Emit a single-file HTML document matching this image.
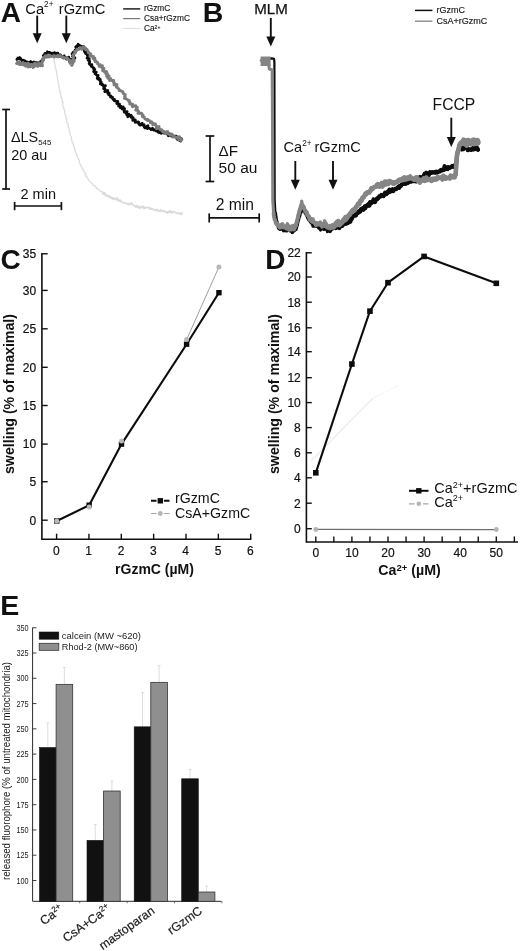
<!DOCTYPE html>
<html lang="en"><head><meta charset="utf-8"><title>Figure: rGzmC mitochondrial swelling</title>
<style>html,body{margin:0;padding:0;background:#fff}body{width:520px;height:951px;overflow:hidden}svg{display:block;font-family:'Liberation Sans', Arial, Helvetica, sans-serif}</style>
</head><body>
<svg width="520" height="951" viewBox="0 0 520 951">
<rect x="0" y="0" width="520" height="951" fill="#ffffff"/>
<g id="panelA">
<text x="0.8" y="21.5" font-size="28" font-weight="bold" text-anchor="start" fill="#111" >A</text>
<text x="25.3" y="13.5" font-size="14.7" font-weight="normal" text-anchor="start" fill="#111" >Ca<tspan dy="-6.3" font-size="8.2">2+</tspan></text>
<text x="58.8" y="13.5" font-size="14.7" font-weight="normal" text-anchor="start" fill="#111" >rGzmC</text>
<line x1="37.2" y1="15.6" x2="37.2" y2="34.2" stroke="#111" stroke-width="1.9"/>
<polygon points="32.7,33.2 41.7,33.2 37.2,43.2" fill="#111"/>
<line x1="66.3" y1="15.6" x2="66.3" y2="34.2" stroke="#111" stroke-width="1.9"/>
<polygon points="61.8,33.2 70.8,33.2 66.3,43.2" fill="#111"/>
<line x1="123.2" y1="8.9" x2="140.2" y2="8.9" stroke="#111" stroke-width="1.4" />
<line x1="123.2" y1="18.6" x2="140.2" y2="18.6" stroke="#7a7a7a" stroke-width="1.2" />
<line x1="123.2" y1="28.4" x2="140.2" y2="28.4" stroke="#dcdcdc" stroke-width="1.0" />
<text x="144" y="11.2" font-size="8.3" font-weight="normal" text-anchor="start" fill="#1a1a1a" stroke="#1a1a1a" stroke-width="0.15">rGzmC</text>
<text x="144" y="21.2" font-size="8.3" font-weight="normal" text-anchor="start" fill="#1a1a1a" stroke="#1a1a1a" stroke-width="0.15">Csa+rGzmC</text>
<text x="144" y="31.2" font-size="8.3" font-weight="normal" text-anchor="start" fill="#1a1a1a" stroke="#1a1a1a" stroke-width="0.15">Ca<tspan dy="-2.5" font-size="5">2+</tspan></text>
<polyline points="53.8,58.6 54.0,59.0 54.1,59.4 53.8,59.9 54.6,60.2 54.2,61.1 54.1,61.9 54.6,62.7 54.6,63.5 55.1,64.3 54.9,65.2 55.2,65.9 55.1,66.8 55.3,67.6 55.5,68.4 56.0,69.1 56.2,69.9 56.3,70.8 56.3,71.6 56.8,72.3 56.4,73.3 56.6,74.0 57.2,74.8 57.3,75.6 57.2,76.4 57.2,77.2 57.6,78.0 57.5,78.8 57.5,79.7 58.1,80.4 57.9,81.3 58.2,82.0 58.1,82.9 58.4,83.7 58.8,84.4 59.1,85.2 58.6,86.1 58.9,86.9 59.1,87.7 59.3,88.5 59.7,89.2 59.3,90.1 59.8,90.9 60.5,91.5 59.8,92.5 60.2,93.3 60.9,93.9 60.8,94.8 60.8,95.6 60.8,96.5 61.2,97.2 61.7,97.9 62.2,98.6 61.9,99.5 62.4,100.2 62.1,101.1 63.2,101.7 62.0,102.8 63.0,103.4 62.9,104.3 62.8,105.1 62.8,106.0 62.9,106.8 63.8,107.4 63.4,108.3 63.9,109.0 64.5,109.7 64.7,110.5 64.7,111.3 64.7,112.2 64.9,113.0 64.8,113.8 65.4,114.5 65.1,115.4 65.7,116.1 66.2,116.8 66.0,117.7 66.0,118.5 67.1,119.1 66.4,120.1 66.8,120.9 66.3,121.8 67.1,122.4 68.1,123.0 68.1,123.8 68.4,124.6 67.7,125.6 68.5,126.3 68.2,127.2 68.9,127.8 69.1,128.6 69.3,129.4 69.1,130.3 69.3,131.1 69.8,131.8 70.2,132.5 69.9,133.4 70.0,134.2 70.3,135.0 70.6,135.7 71.2,136.4 71.6,137.2 71.3,138.1 71.2,138.9 71.6,139.7 72.1,140.4 72.0,141.2 72.1,142.1 72.4,142.8 73.5,143.3 73.3,144.2 73.5,145.0 73.3,145.9 74.3,146.5 74.8,147.1 74.2,148.2 74.7,148.9 74.7,149.7 75.5,150.3 75.1,151.3 75.8,151.9 76.0,152.7 76.3,153.5 76.9,154.1 76.4,155.2 77.1,155.8 77.3,156.5 77.8,157.3 77.8,158.1 78.4,158.8 78.8,159.5 79.4,160.1 79.1,161.1 79.3,161.9 79.5,162.7 80.0,163.3 79.9,164.2 80.8,164.7 81.2,165.4 81.0,166.4 81.7,167.0 82.1,167.7 82.0,168.6 83.1,168.9 82.9,170.0 83.8,170.4 83.9,171.3 84.3,172.0 85.1,172.5 85.4,173.3 84.8,174.5 85.7,174.9 86.2,175.6 86.0,176.6 87.1,176.9 87.1,177.8 87.9,178.3 88.1,179.1 88.6,179.7 89.1,180.4 89.2,181.3 89.9,181.8 90.6,182.2 91.4,182.6 91.7,183.4 92.3,184.0 92.6,184.9 93.2,185.5 94.3,185.4 94.9,186.0 95.2,186.9 96.3,187.0 96.1,188.3 97.1,188.5 97.8,188.9 98.5,189.4 99.1,190.0 99.7,190.5 100.2,191.3 101.1,191.3 101.8,191.8 102.4,192.2 103.1,192.7 103.6,193.6 104.3,193.9 105.4,193.6 105.9,194.4 106.5,195.1 107.4,195.1 108.1,195.5 108.8,196.1 109.7,196.0 110.2,196.8 110.9,197.2 111.7,197.6 112.4,197.9 113.3,197.9 114.0,198.5 114.5,198.4 114.6,199.0 115.3,198.6 115.7,198.8" fill="none" stroke="#dedede" stroke-width="1.3" stroke-linejoin="round" stroke-linecap="round" />
<polyline points="102.2,192.5 102.7,192.2 102.8,192.8 102.9,194.2 104.5,192.6 105.0,193.2 105.2,194.5 105.4,195.6 106.3,195.4 106.9,195.9 107.6,196.2 108.5,195.8 108.8,197.0 109.7,196.6 110.3,197.1 110.7,198.0 111.4,198.2 112.4,197.7 113.1,198.0 113.1,199.6 114.2,199.1 115.3,198.5 115.7,199.2 117.1,197.9 117.0,199.8 117.5,200.5 118.7,199.3 119.0,200.8 119.6,201.2 120.7,200.2 121.0,201.7 121.7,201.8 122.3,202.4 123.1,202.4 123.8,202.6 124.3,203.3 125.2,202.9 125.8,203.6 126.6,203.4 127.2,203.9 128.1,203.5 128.9,203.3 129.2,204.9 130.2,204.2 131.4,202.7 131.6,204.5 132.5,204.1 133.0,205.0 133.6,205.6 134.3,205.8 135.0,206.0 135.5,207.0 136.6,205.3 136.9,207.1 137.9,206.3 138.2,207.9 139.3,206.3 139.7,207.9 140.3,208.3 141.5,206.6 142.3,206.4 142.7,207.6 143.8,206.3 144.0,208.7 144.9,207.9 145.5,208.2 146.5,207.2 147.2,207.4 147.9,207.7 148.6,207.5 149.3,207.6 149.7,209.1 150.7,207.9 151.1,209.2 151.9,208.8 152.6,208.9 153.3,209.3 153.9,209.8 154.6,210.1 155.4,209.5 156.1,209.6 156.6,210.7 157.5,209.5 158.0,210.9 158.7,211.1 159.5,210.6 160.1,211.4 161.1,209.6 161.6,210.6 162.2,211.3 163.0,211.2 163.8,210.6 164.3,211.8 165.1,211.3 165.8,211.8 166.5,212.2 167.1,213.2 168.0,211.5 168.6,212.4 169.6,210.8 170.1,212.5 171.0,211.1 171.5,213.1 172.4,211.7 173.1,211.4 173.7,212.5 174.5,212.1 175.2,212.1 175.9,212.7 176.5,213.1 177.2,213.8 178.0,213.2 178.8,212.7 179.5,213.1 180.0,214.2 180.9,213.2 181.4,214.5 182.0,213.1 182.3,213.3" fill="none" stroke="#dadada" stroke-width="1.6" stroke-linejoin="round" stroke-linecap="round" />
<polyline points="16.8,59.5 17.9,57.9 18.4,58.6 19.7,57.5 19.9,59.1 20.9,58.7 21.3,59.7 22.0,60.1 22.2,62.0 23.6,60.2 24.2,61.0 25.1,60.9 25.6,62.2 26.5,61.8 27.3,62.0 28.0,62.4 28.8,63.0 29.7,62.4 30.7,61.5 31.4,62.0 32.1,62.9 32.8,63.6 33.9,61.8 34.5,63.0 35.4,62.4 35.9,64.5 37.0,62.7 37.7,63.5 38.6,63.7 39.1,62.6 40.6,63.9 40.4,61.5 42.0,62.4 41.7,61.0 41.9,60.3 42.4,59.6 43.4,59.2 43.6,58.4 44.2,57.8 43.7,56.7 43.3,55.6 44.3,55.2 44.6,54.3 45.0,53.3 46.5,54.3 47.0,53.2 47.4,51.7 48.3,52.5 49.1,52.3 50.0,52.6 50.7,54.0 51.5,53.1 52.3,53.2 52.9,53.9 53.9,52.9 54.7,52.6 55.3,53.7 55.8,54.9 57.0,53.2 57.8,53.2 57.6,56.4 59.0,54.7 59.6,55.3 60.5,54.8 60.8,56.6 61.7,56.3 62.2,57.2 63.0,57.1 64.2,55.8 64.4,57.6 65.3,57.4 66.1,57.7 66.4,59.1 67.6,58.0 68.8,57.1 69.2,58.4 69.3,59.8 69.6,60.2 71.7,59.3 69.5,61.6 72.5,60.8 72.3,62.9 73.1,61.4 73.5,60.6 73.0,59.7 72.9,58.9 74.7,58.4 74.9,57.6 72.4,56.4 73.5,55.8 73.4,55.0 72.0,53.8 73.8,53.5 72.9,52.5 73.7,51.9 75.2,51.5 76.1,51.0 75.2,49.9 76.2,49.4 76.5,48.7 77.0,48.1 75.7,46.9 76.7,46.6 76.6,46.0 77.2,46.3 78.1,44.2 78.8,45.6 79.6,45.3 80.4,45.8 80.9,47.1 81.8,46.4 82.7,46.5 83.8,46.6 83.9,47.5 83.5,48.9 85.0,48.7 84.9,49.8 84.3,51.2 85.3,51.4 84.9,52.4 87.4,52.1 85.6,53.7 87.6,53.7 87.6,54.6 87.2,55.5 88.4,55.9 88.3,56.8 87.0,58.2 88.8,58.3 89.4,58.9 88.1,60.3 89.3,60.6 89.7,61.3 89.6,62.2 89.1,63.3 89.5,64.0 89.9,64.7 91.9,64.6 91.1,65.9 91.5,66.6 92.5,66.9 92.9,67.6 93.9,68.0 93.6,69.1 94.8,69.3 94.2,70.5 93.5,71.7 94.9,71.9 96.4,72.0 94.9,73.7 95.7,74.1 96.2,74.7 96.8,75.2 98.2,75.4 97.8,76.4 97.4,77.5 97.2,78.5 99.2,78.3 98.4,79.5 100.3,79.4 100.0,80.5 100.2,81.3 101.1,81.8 100.6,82.9 100.3,84.0 102.3,83.8 101.9,85.0 103.2,85.2 103.3,86.0 105.5,85.7 104.4,87.2 103.6,88.7 104.8,88.8 105.2,89.4 105.5,90.1 104.7,91.7 107.8,90.4 107.7,91.4 107.7,92.4 107.7,93.3 109.3,93.1 108.5,94.6 109.2,95.0 109.9,95.4 110.7,95.7 110.5,97.0 111.2,97.3 112.5,97.1 112.6,98.1 112.8,98.9 113.2,99.6 114.5,99.4 114.2,100.8 115.1,101.0 116.0,101.2 116.9,101.3 117.9,101.4 116.7,103.6 118.0,103.5 118.3,104.3 119.6,104.0 118.5,106.1 119.8,106.0 120.8,106.1 120.2,107.7 121.8,107.2 123.2,106.9 122.1,109.1 124.1,108.2 124.6,108.7 124.2,110.3 124.1,111.4 124.3,112.3 125.8,111.8 127.2,111.6 126.4,113.5 126.5,114.4 127.1,114.9 128.9,114.2 127.7,116.8 129.5,115.9 131.0,115.2 131.5,115.9 131.2,117.4 132.2,117.5 133.2,117.5 132.8,119.2 132.7,120.4 134.2,119.8 135.3,119.8 135.1,121.2 135.2,122.3 136.6,121.8 137.2,122.3 138.5,121.9 138.9,122.6 138.9,124.3 139.6,124.7 140.2,125.2 142.2,123.3 142.1,125.0 142.9,125.2 144.1,124.6 144.1,126.3 144.4,127.4 145.0,128.0 146.7,126.5 148.0,125.7 147.4,128.7 148.6,127.9 149.2,128.3 149.9,128.6 150.6,129.0 151.1,129.7 152.5,128.2 152.9,129.5 153.5,130.1 154.2,130.2 155.4,129.3 156.0,129.8 156.3,131.1 157.2,130.9 158.4,129.7 158.3,132.4 159.4,131.4 159.9,132.3 160.5,133.0 161.2,133.3 162.4,131.8 163.1,132.3 163.6,133.1 164.6,132.3 165.3,132.9 166.1,132.8 166.5,133.8 167.4,133.7 168.0,134.1 168.3,135.8 169.8,133.8 170.0,135.5 170.9,135.2 171.4,136.2 172.3,136.0 172.9,136.7 173.7,136.5 174.6,136.4 175.6,136.1 176.4,136.2 176.4,138.2 177.5,137.8 177.5,139.6 178.7,139.0 179.5,139.0 179.7,140.6 181.5,138.6 180.7,141.2" fill="none" stroke="#0c0c0c" stroke-width="2.7" stroke-linejoin="round" stroke-linecap="round" />
<polyline points="16.7,63.4 17.3,63.1 18.7,62.2 18.9,63.5 19.4,64.4 20.4,64.2 21.5,63.7 22.1,64.3 23.2,63.0 23.6,64.2 24.3,64.3 25.3,63.6 25.5,65.5 26.5,64.8 27.5,63.6 28.3,63.5 28.2,66.9 29.0,66.3 29.7,65.4 30.5,66.5 31.2,66.0 31.9,65.4 32.6,65.8 33.4,66.9 34.0,64.1 34.7,63.3 35.4,63.3 36.3,65.2 36.9,64.1 37.7,65.7 38.3,65.4 38.7,64.8 40.2,65.5 39.2,63.0 42.3,65.6 42.0,64.5" fill="none" stroke="#7c7c7c" stroke-width="3.2" stroke-linejoin="round" stroke-linecap="round" />
<polyline points="17.4,62.1 17.5,62.8 18.7,62.2 19.3,62.8 20.1,62.9 20.7,63.5 21.2,64.3 22.8,62.5 22.9,64.4 23.5,65.0 24.3,65.1 25.1,65.3 25.7,66.3 26.9,65.1 27.5,65.8 28.2,66.2 29.1,65.2 29.8,65.1 30.5,65.1 31.3,64.3 32.1,64.6 33.0,67.5 33.7,65.8 34.5,64.7 35.3,66.0 36.1,65.5 36.9,65.1 37.8,66.3 38.0,64.7 38.2,64.1 38.7,63.7 40.5,64.6 40.4,63.3 41.1,63.0 41.7,62.6 42.3,62.1 42.7,61.4 42.2,60.3 43.7,60.2 43.2,59.1 43.5,58.4 43.2,57.4 44.5,57.2 44.9,56.5 45.3,55.6 46.9,57.3 47.2,56.4 47.7,55.2 48.9,57.1 49.4,55.7 50.0,55.3 50.7,56.4 51.4,56.7 52.2,56.2 52.9,56.1 53.7,55.5 54.4,57.1 55.2,56.1 55.9,56.0 56.6,56.4 57.8,55.3 58.2,56.9 59.1,56.9 60.2,55.6 60.9,56.5 61.7,56.6 62.3,57.6 63.3,56.9 63.7,58.4 64.7,57.8 65.6,57.8 66.2,58.3 66.9,58.6 67.9,58.4 68.3,59.5 69.0,59.8 69.7,60.0 69.6,60.9 71.1,60.6 71.6,61.4 69.9,62.5 70.0,63.3 72.5,63.5 72.3,64.4 71.6,65.3 72.0,65.4 72.1,65.3 71.5,64.4 72.6,63.8 73.0,63.1 72.3,62.2 73.5,61.6 74.4,61.0 72.9,60.0 73.5,59.3 73.0,58.5 73.6,57.8 73.7,57.0 73.0,56.0 73.3,55.2 73.4,54.4 74.2,53.8 75.0,53.2 75.6,52.6 74.6,51.4 76.1,51.0 76.4,50.3 77.2,49.9 76.9,49.2 77.4,49.7 78.0,49.2 78.9,49.5 79.6,48.8 80.3,47.4 81.2,48.5 81.8,49.3 83.2,46.8 83.7,48.4 84.9,47.6 85.7,48.2 85.7,49.9 87.1,49.5 87.4,50.3 87.9,50.9 88.3,51.5 88.1,52.8 89.1,52.9 89.5,53.6 90.6,53.6 91.0,54.4 89.8,56.3 91.3,56.0 92.1,56.4 93.5,56.3 93.2,57.5 93.0,58.6 94.9,58.1 94.4,59.5 94.5,60.4 95.6,60.5 95.2,61.8 96.7,61.6 97.1,62.3 97.8,62.6 97.6,63.9 98.3,64.2 98.7,64.9 100.2,64.6 99.2,66.5 100.5,66.4 102.5,65.7 102.3,66.9 102.0,68.1 103.3,68.0 104.1,68.4 102.5,70.7 103.5,70.9 104.4,71.1 104.5,72.0 106.4,71.4 106.8,72.1 105.8,73.9 107.4,73.6 107.5,74.4 106.5,76.3 108.2,75.9 109.2,76.0 107.8,78.2 108.6,78.5 109.7,78.6 110.9,78.6 109.5,80.7 111.5,80.1 112.2,80.5 113.7,80.3 113.4,81.5 113.5,82.4 114.4,82.7 114.0,83.9 114.0,85.0 116.0,84.4 117.0,84.6 116.7,85.8 116.3,87.1 117.3,87.2 117.6,88.0 118.2,88.5 118.9,88.9 119.1,89.8 119.2,90.7 120.6,90.5 121.1,91.1 121.9,91.5 122.9,91.7 123.0,92.5 123.1,93.4 123.9,93.8 124.4,94.4 125.3,94.6 124.5,96.3 125.3,96.6 124.4,98.4 125.4,98.6 126.3,98.8 127.0,99.3 127.6,99.7 128.1,100.3 129.3,100.3 128.9,101.7 129.8,101.9 129.8,103.0 129.7,104.1 130.7,104.2 132.0,104.0 132.9,104.3 132.2,105.9 132.5,106.7 134.1,106.2 135.8,105.7 136.0,106.6 136.3,107.4 137.4,107.3 135.6,110.1 137.5,109.4 137.4,110.6 138.1,110.9 138.6,111.5 137.9,113.4 139.6,112.7 140.0,113.5 141.3,113.2 141.9,113.7 142.1,114.6 143.0,114.8 142.3,116.6 143.2,116.8 144.3,116.8 144.4,117.8 144.7,118.6 145.4,119.1 146.1,119.5 147.5,119.1 147.2,120.5 148.3,120.5 149.3,120.4 149.8,121.1 150.5,121.4 150.4,122.9 152.0,122.0 152.2,123.1 152.8,123.5 152.7,124.9 154.6,123.7 155.5,123.9 155.5,125.2 155.9,125.8 156.7,126.1 156.1,128.4 156.8,128.9 159.1,126.5 158.7,128.6 159.6,128.6 160.0,129.6 160.7,129.9 161.7,129.6 162.2,130.2 162.4,131.5 162.9,132.1 164.2,131.4 164.9,131.8 164.7,133.7 166.6,131.9 167.7,131.5 167.3,133.9 168.2,133.9 168.9,134.3 169.7,134.6 170.3,135.2 171.8,133.9 172.4,134.5 172.8,135.5 172.9,137.1 174.3,136.1 174.7,137.1 175.6,137.2 176.1,137.8 177.7,136.7 177.9,138.0 179.6,136.7 178.6,139.9 180.6,138.3 180.5,140.0 181.0,140.7 182.0,139.8" fill="none" stroke="#7c7c7c" stroke-width="2.8" stroke-linejoin="round" stroke-linecap="round" />
<line x1="6.0" y1="109.5" x2="6.0" y2="189" stroke="#111" stroke-width="1.7" />
<line x1="2.2" y1="109.5" x2="10" y2="109.5" stroke="#111" stroke-width="1.7" />
<line x1="2.2" y1="189" x2="10" y2="189" stroke="#111" stroke-width="1.7" />
<text x="11" y="142.4" font-size="14.4" font-weight="normal" text-anchor="start" fill="#111" >&#916;LS<tspan dy="2.3" font-size="7.8">545</tspan></text>
<text x="11.2" y="159.7" font-size="14.4" font-weight="normal" text-anchor="start" fill="#111" >20 au</text>
<line x1="14.6" y1="206" x2="61.4" y2="206" stroke="#111" stroke-width="1.7" />
<line x1="14.6" y1="202" x2="14.6" y2="210.2" stroke="#111" stroke-width="1.7" />
<line x1="61.4" y1="202" x2="61.4" y2="210.2" stroke="#111" stroke-width="1.7" />
<text x="20.5" y="199" font-size="14.5" font-weight="normal" text-anchor="start" fill="#111" >2 min</text>
</g>
<g id="panelB">
<text x="202.8" y="21.8" font-size="28.5" font-weight="bold" text-anchor="start" fill="#111" >B</text>
<text x="254.2" y="13.8" font-size="15.1" font-weight="normal" text-anchor="start" fill="#111" stroke="#111" stroke-width="0.25">MLM</text>
<line x1="270.8" y1="18" x2="270.8" y2="37.5" stroke="#111" stroke-width="1.9"/>
<polygon points="266.3,36.5 275.3,36.5 270.8,46.5" fill="#111"/>
<line x1="415" y1="10.4" x2="432.4" y2="10.4" stroke="#111" stroke-width="1.5" />
<line x1="415" y1="21.2" x2="432.4" y2="21.2" stroke="#808080" stroke-width="1.3" />
<text x="436.5" y="13.1" font-size="9.0" font-weight="normal" text-anchor="start" fill="#1a1a1a" stroke="#1a1a1a" stroke-width="0.15">rGzmC</text>
<text x="436.5" y="24.1" font-size="9.0" font-weight="normal" text-anchor="start" fill="#1a1a1a" stroke="#1a1a1a" stroke-width="0.15">CsA+rGzmC</text>
<text x="432.6" y="109.8" font-size="15.7" font-weight="normal" text-anchor="start" fill="#111" >FCCP</text>
<line x1="451.3" y1="117.7" x2="451.3" y2="137.9" stroke="#111" stroke-width="1.9"/>
<polygon points="446.8,136.9 455.8,136.9 451.3,146.9" fill="#111"/>
<text x="283.5" y="151.5" font-size="14.6" font-weight="normal" text-anchor="start" fill="#111" >Ca<tspan dy="-6" font-size="8.2">2+</tspan></text>
<text x="314.5" y="151.5" font-size="14.6" font-weight="normal" text-anchor="start" fill="#111" >rGzmC</text>
<line x1="295.3" y1="161" x2="295.3" y2="180.8" stroke="#111" stroke-width="1.9"/>
<polygon points="290.8,179.8 299.8,179.8 295.3,189.8" fill="#111"/>
<line x1="333" y1="161" x2="333" y2="180.8" stroke="#111" stroke-width="1.9"/>
<polygon points="328.5,179.8 337.5,179.8 333,189.8" fill="#111"/>
<polyline points="268.2,58.6 271.7,58.4 274.0,58.8 274.4,62.0 274.5,120.0 274.7,200.0 275.4,213.0" fill="none" stroke="#0c0c0c" stroke-width="2.2" stroke-linejoin="round" stroke-linecap="round" />
<polyline points="275.5,213.2 275.5,213.5 275.6,214.3 275.7,215.6 275.9,216.4 276.0,217.3 276.1,218.2 276.2,218.9 276.4,219.8 276.6,221.2 276.8,221.3 277.0,222.1 277.2,222.9 277.4,224.0 277.6,225.1 278.0,225.8 278.5,228.3 279.2,226.2 279.9,229.4 280.6,225.2 281.3,227.7 282.0,229.1 282.7,229.4 283.5,230.7 284.3,229.8 285.1,230.5 285.9,228.5 286.7,230.9 287.5,229.3 288.3,229.8 289.1,227.6 289.9,230.7 290.7,231.3 291.5,230.0 292.3,232.5 293.1,231.7 293.8,229.0 294.6,230.5 295.4,228.5 296.0,229.4 296.4,227.0 296.6,227.3 296.8,226.5 297.1,224.9 297.3,225.0 297.5,223.4 297.7,222.8 297.9,222.0 298.1,220.3 298.3,220.3 298.6,219.5 298.8,218.7 299.0,217.4 299.2,216.9 299.5,216.5 299.8,215.6 300.0,214.6 300.3,213.0 300.6,212.5 300.8,212.5 301.1,212.2 301.4,211.2 301.7,210.1 301.9,209.3 302.2,208.5 302.5,208.1 302.9,208.4 303.3,209.8 303.7,209.4 304.1,210.2 304.4,211.3 304.8,210.7 305.2,213.2 305.6,212.3 306.0,213.0 306.4,215.1 306.8,215.8 307.2,215.0 307.6,217.9 308.0,216.6 308.4,218.2 308.8,219.7 309.2,219.6 309.6,219.0 310.0,221.3 310.5,219.8 311.0,222.8 311.5,221.8 312.0,223.4 312.5,224.0 313.0,226.1 313.5,225.3 314.1,224.7 314.8,226.0 315.6,225.7 316.4,226.4 317.2,226.2 318.0,226.2 318.9,228.2 319.7,228.4 320.6,229.9 321.4,228.0 322.3,228.4 323.1,228.8 324.0,229.4 324.9,229.2 325.8,229.0 326.6,227.7 327.5,231.5 328.4,229.4 329.2,230.7 330.1,231.5 331.0,230.1 331.8,229.3 332.6,228.9 333.3,227.0 334.1,227.3 334.9,226.9 335.7,228.6 336.4,226.9 337.2,227.5 338.0,227.1 338.7,227.4 339.4,228.1 340.1,226.3 340.9,224.3 341.6,226.2 342.3,226.0 343.0,224.8 343.7,224.5 344.4,223.8 345.1,223.9 345.9,223.7 346.6,222.9 347.3,223.4 348.0,222.9 348.6,221.5 349.2,219.1 349.8,220.5 350.4,221.8 351.0,218.6 351.6,219.2 352.2,218.2 352.8,216.8 353.5,215.8 354.1,215.8 354.7,215.0 355.3,214.9 355.9,215.6 356.5,214.0 357.1,212.2 357.7,213.2 358.3,212.7 359.0,211.2 359.6,211.9 360.3,211.5 360.9,209.1 361.5,209.7 362.2,209.5 362.8,208.1 363.5,209.7 364.1,208.6 364.7,206.4 365.4,208.3 366.0,206.1 366.7,205.7 367.3,204.9 368.0,205.7 368.7,203.9 369.4,205.6 370.1,202.0 370.8,203.6 371.5,203.1 372.2,202.5 372.8,201.7 373.5,199.4 374.2,200.2 374.9,202.2 375.6,200.9 376.3,199.4 377.0,198.4 377.7,198.9 378.5,198.1 379.2,196.3 379.9,196.4 380.7,196.5 381.4,194.8 382.1,195.0 382.8,195.8 383.6,196.2 384.3,193.9 385.0,192.7 385.8,194.1 386.5,194.2 387.2,192.0 388.0,192.8 388.8,190.8 389.5,189.5 390.2,191.9 391.0,191.1 391.8,189.8 392.5,189.2 393.2,191.2 394.0,189.8 394.8,189.4 395.5,188.6 396.2,189.1 397.0,188.2 397.8,187.5 398.5,186.6 399.2,187.9 400.0,185.7 400.8,186.2 401.6,184.3 402.3,184.3 403.1,184.1 403.9,183.7 404.7,183.0 405.4,183.9 406.2,183.7 407.0,182.5 407.8,182.9 408.5,182.5 409.3,180.8 410.1,181.4 410.8,181.7 411.6,181.5 412.4,180.2 413.1,181.3 413.9,181.0 414.7,181.3 415.4,180.8 416.2,181.4 416.9,177.5 417.7,178.6 418.5,179.3 419.2,179.5 420.0,177.0 420.8,177.6 421.5,177.6 422.3,178.0 423.1,176.7 423.8,175.8 424.6,173.7 425.4,176.0 426.2,172.6 426.9,173.5 427.7,174.3 428.5,175.2 429.2,174.3 430.0,172.1 430.8,172.6 431.5,172.9 432.3,172.0 433.1,172.4 433.8,172.6 434.6,172.1 435.4,172.7 436.2,171.6 436.9,172.4 437.7,172.6 438.5,171.6 439.2,171.2 440.0,171.5 440.8,169.9 441.5,169.7 442.3,170.4 443.1,169.6 443.8,170.0 444.6,166.1 445.3,169.4 446.1,167.4 446.9,168.7 447.6,169.2 448.4,167.1 449.2,168.0 449.9,167.8 450.7,167.4 451.5,166.9 452.2,165.9 453.1,166.9 454.0,166.0 455.0,165.5 455.7,163.7 456.1,163.9 456.2,163.2 456.3,162.6 456.4,161.4 456.5,160.7 456.6,160.3 456.7,159.3 456.8,158.5 456.8,157.9 456.9,156.9 457.0,155.9 457.1,155.3 457.2,154.5 457.3,153.4 457.4,152.8 457.6,152.2 458.0,151.4 458.5,149.7 459.0,149.4 459.5,148.8 460.1,147.2 460.9,147.8 461.8,149.5 462.6,148.3 463.5,149.1 464.4,145.9 465.2,147.3 466.1,147.6 467.0,147.1 467.8,150.2 468.7,149.8 469.5,149.3 470.3,149.5 471.2,150.0 472.0,148.6 472.8,148.1 473.6,149.5 474.4,148.9 475.2,147.9 476.1,149.1 476.9,147.5 477.7,148.8 478.1,149.9" fill="none" stroke="#0c0c0c" stroke-width="3.3" stroke-linejoin="round" stroke-linecap="round" />
<polyline points="336.4,226.9 337.2,227.5 338.0,227.1 338.7,227.4 339.4,228.1 340.1,226.3 340.9,224.3 341.6,226.2 342.3,226.0 343.0,224.8 343.7,224.5 344.4,223.8 345.1,223.9 345.9,223.7 346.6,222.9 347.3,223.4 348.0,222.9 348.6,221.5 349.2,219.1 349.8,220.5 350.4,221.8 351.0,218.6 351.6,219.2 352.2,218.2 352.8,216.8 353.5,215.8 354.1,215.8 354.7,215.0 355.3,214.9 355.9,215.6 356.5,214.0 357.1,212.2 357.7,213.2 358.3,212.7 359.0,211.2 359.6,211.9 360.3,211.5 360.9,209.1 361.5,209.7 362.2,209.5 362.8,208.1 363.5,209.7 364.1,208.6 364.7,206.4 365.4,208.3 366.0,206.1 366.7,205.7 367.3,204.9 368.0,205.7 368.7,203.9 369.4,205.6 370.1,202.0 370.8,203.6 371.5,203.1 372.2,202.5 372.8,201.7 373.5,199.4 374.2,200.2 374.9,202.2 375.6,200.9 376.3,199.4 377.0,198.4 377.7,198.9 378.5,198.1 379.2,196.3 379.9,196.4 380.7,196.5 381.4,194.8 382.1,195.0 382.8,195.8 383.6,196.2 384.3,193.9 385.0,192.7 385.8,194.1 386.5,194.2 387.2,192.0 388.0,192.8 388.8,190.8 389.5,189.5 390.2,191.9 391.0,191.1 391.8,189.8 392.5,189.2 393.2,191.2 394.0,189.8 394.8,189.4 395.5,188.6 396.2,189.1 397.0,188.2 397.8,187.5 398.5,186.6 399.2,187.9 400.0,185.7 400.8,186.2 401.6,184.3 402.3,184.3 403.1,184.1 403.9,183.7 404.7,183.0 405.4,183.9 406.2,183.7 407.0,182.5 407.8,182.9 408.5,182.5 409.3,180.8 410.1,181.4 410.8,181.7 411.6,181.5 412.4,180.2 413.1,181.3 413.9,181.0 414.7,181.3 415.4,180.8 416.2,181.4 416.9,177.5 417.7,178.6 418.5,179.3 419.2,179.5 420.0,177.0 420.8,177.6 421.5,177.6 422.3,178.0 423.1,176.7 423.8,175.8 424.6,173.7 425.4,176.0 426.2,172.6 426.9,173.5 427.7,174.3 428.5,175.2 429.2,174.3 430.0,172.1 430.8,172.6 431.5,172.9 432.3,172.0 433.1,172.4 433.8,172.6 434.6,172.1 435.4,172.7 436.2,171.6 436.9,172.4 437.7,172.6 438.5,171.6 439.2,171.2 440.0,171.5 440.8,169.9 441.5,169.7 442.3,170.4 443.1,169.6 443.8,170.0 444.6,166.1 445.3,169.4 446.1,167.4 446.9,168.7 447.6,169.2 448.4,167.1 449.2,168.0 449.9,167.8 450.7,167.4 451.5,166.9 452.2,165.9 453.1,166.9 454.0,166.0 455.0,165.5 455.7,163.7 456.1,163.9 456.2,163.2 456.3,162.6 456.4,161.4 456.5,160.7 456.6,160.3 456.7,159.3 456.8,158.5 456.8,157.9 456.9,156.9 457.0,155.9 457.1,155.3 457.2,154.5 457.3,153.4 457.4,152.8 457.6,152.2 458.0,151.4 458.5,149.7 459.0,149.4 459.5,148.8 460.1,147.2 460.9,147.8 461.8,149.5 462.6,148.3 463.5,149.1 464.4,145.9 465.2,147.3 466.1,147.6 467.0,147.1 467.8,150.2 468.7,149.8 469.5,149.3 470.3,149.5 471.2,150.0 472.0,148.6 472.8,148.1 473.6,149.5 474.4,148.9 475.2,147.9 476.1,149.1 476.9,147.5 477.7,148.8 478.1,149.9" fill="none" stroke="#0c0c0c" stroke-width="4.0" stroke-linejoin="round" stroke-linecap="round" />
<rect x="260.6" y="56.5" width="10" height="9.5" fill="#858585" stroke="none" stroke-width="0"/>
<polyline points="261.2,60.5 264.7,61.0 268.2,62.0 269.4,69.0 272.2,70.0 272.5,120.0 272.8,200.0 273.6,213.0" fill="none" stroke="#858585" stroke-width="3.1" stroke-linejoin="round" stroke-linecap="round" />
<polyline points="273.7,213.2 273.7,213.9 273.8,214.8 273.9,215.6 274.1,216.5 274.2,217.5 274.3,217.9 274.5,218.7 274.7,220.0 275.0,220.1 275.3,220.6 275.6,221.7 275.9,223.5 276.3,223.0 276.9,224.7 277.7,224.1 278.4,225.0 279.2,227.2 279.9,227.7 280.7,225.9 281.5,225.2 282.4,224.0 283.2,227.3 284.0,226.4 284.9,226.7 285.7,226.3 286.5,228.7 287.4,228.2 288.2,227.5 289.0,229.8 289.9,227.5 290.7,227.4 291.5,229.3 292.4,226.3 293.2,227.3 294.0,229.5 294.9,227.4 295.5,225.7 295.9,225.7 296.1,224.8 296.3,223.5 296.5,223.2 296.7,221.9 296.9,221.4 297.1,220.5 297.3,219.5 297.5,218.8 297.7,218.0 297.9,217.5 298.1,216.6 298.3,215.6 298.5,214.9 298.7,213.7 298.9,213.5 299.2,212.3 299.4,211.7 299.6,210.5 299.9,209.2 300.1,209.0 300.3,208.1 300.5,207.7 300.8,206.0 301.0,206.0 301.2,205.2 301.5,204.7 301.7,205.7 302.1,205.5 302.5,205.0 302.8,207.1 303.2,206.2 303.6,206.4 304.0,208.0 304.4,209.1 304.7,210.2 305.1,210.1 305.5,210.8 305.9,212.4 306.4,212.6 306.8,212.4 307.2,214.7 307.7,215.3 308.1,215.2 308.6,216.3 309.0,216.2 309.6,219.4 310.1,218.4 310.7,218.6 311.3,221.1 311.9,221.3 312.4,221.4 313.1,221.9 313.8,222.0 314.5,222.9 315.2,223.3 316.0,225.1 316.9,223.0 317.7,224.3 318.6,224.4 319.5,224.6 320.3,224.6 321.2,225.4 322.1,224.5 322.9,224.5 323.8,224.9 324.7,225.9 325.5,225.9 326.4,226.6 327.2,227.2 328.1,226.5 328.9,227.5 329.8,225.8 330.6,227.4 331.5,228.0 332.4,225.0 333.2,227.0 334.1,226.4 335.0,226.7 335.8,223.6 336.6,222.3 337.4,222.6 338.2,221.1 339.0,224.0 339.8,222.6 340.6,222.7 341.4,223.1 342.2,222.2 342.9,221.6 343.6,220.2 344.2,219.0 344.9,220.2 345.5,217.0 346.1,219.4 346.8,218.2 347.4,217.4 348.0,216.5 348.6,215.2 349.1,215.0 349.7,214.9 350.2,213.3 350.8,213.1 351.3,212.5 351.9,211.1 352.4,211.7 353.0,209.8 353.5,210.9 354.0,209.9 354.6,210.3 355.1,209.0 355.6,207.8 356.1,207.0 356.7,206.4 357.2,205.6 357.7,204.6 358.2,203.6 358.8,203.9 359.3,204.1 359.8,202.5 360.4,200.6 360.9,200.2 361.4,200.8 362.0,199.8 362.5,197.6 363.1,197.7 363.7,197.2 364.3,195.9 364.9,195.1 365.5,193.7 366.1,194.3 366.7,193.2 367.3,192.4 368.0,192.1 368.6,192.6 369.3,192.5 370.0,190.8 370.7,190.5 371.3,188.4 372.0,188.9 372.7,188.9 373.4,187.6 374.1,187.3 374.9,186.8 375.6,186.6 376.3,186.7 377.0,184.9 377.8,184.1 378.6,185.8 379.4,186.6 380.2,184.8 381.0,185.1 381.8,183.0 382.5,186.6 383.3,184.3 384.1,184.8 384.9,181.7 385.7,184.4 386.5,181.7 387.3,181.8 388.1,184.0 388.9,183.0 389.7,181.2 390.5,181.9 391.3,181.7 392.1,182.4 392.9,183.5 393.6,182.4 394.4,183.5 395.2,182.2 396.0,182.5 396.8,182.1 397.6,181.9 398.4,180.3 399.2,180.3 400.0,179.5 400.9,179.7 401.8,180.1 402.6,178.6 403.5,179.9 404.4,177.4 405.2,179.4 406.1,179.4 407.0,178.4 407.8,177.5 408.6,178.5 409.4,177.6 410.2,176.5 411.0,178.3 411.8,177.9 412.6,178.6 413.4,178.9 414.2,180.0 415.1,179.6 415.9,177.6 416.7,179.0 417.5,178.1 418.3,181.3 419.1,180.5 419.9,182.5 420.7,181.3 421.5,179.7 422.3,179.6 423.1,180.2 423.9,178.3 424.7,180.9 425.5,179.4 426.4,177.6 427.2,180.1 428.0,179.3 428.8,179.6 429.6,179.4 430.4,179.0 431.2,180.8 432.0,180.5 432.8,178.8 433.6,179.7 434.5,178.6 435.3,178.7 436.1,179.5 436.9,179.2 437.7,177.1 438.5,177.5 439.3,178.0 440.1,177.6 440.9,178.1 441.7,177.3 442.5,179.4 443.3,175.8 444.1,177.3 444.9,177.0 445.8,178.5 446.6,177.6 447.4,178.1 448.2,177.9 449.0,177.7 449.8,178.4 450.6,175.7 451.4,176.9 452.2,176.2 453.0,177.1 453.8,175.9 454.7,177.1 455.2,175.2 455.6,174.8 455.6,174.5 455.7,173.5 455.7,172.8 455.8,172.0 455.8,171.1 455.9,170.3 456.0,169.5 456.0,168.8 456.1,168.0 456.1,167.1 456.2,166.4 456.2,165.5 456.3,164.6 456.4,163.8 456.4,163.0 456.5,162.2 456.5,161.4 456.6,160.5 456.7,159.7 456.7,158.8 456.8,158.2 456.8,157.5 456.9,156.6 456.9,155.7 457.1,155.1 457.2,153.8 457.4,152.9 457.6,152.4 457.8,152.1 458.0,151.2 458.2,149.7 458.5,149.6 458.7,148.3 458.9,147.4 459.1,146.7 459.3,145.4 459.6,144.8 460.1,143.9 460.8,143.4 461.4,143.1 462.1,142.6 462.8,143.3 463.6,143.6 464.4,141.5 465.2,144.4 466.0,141.8 466.8,145.6 467.6,141.7 468.4,140.8 469.2,143.3 470.0,142.7 470.8,144.2 471.7,142.5 472.6,143.1 473.4,142.2 474.2,144.0 475.1,142.8 475.9,142.0 476.8,143.3 477.7,143.5 478.1,142.3" fill="none" stroke="#858585" stroke-width="3.9" stroke-linejoin="round" stroke-linecap="round" />
<polyline points="336.6,222.3 337.4,222.6 338.2,221.1 339.0,224.0 339.8,222.6 340.6,222.7 341.4,223.1 342.2,222.2 342.9,221.6 343.6,220.2 344.2,219.0 344.9,220.2 345.5,217.0 346.1,219.4 346.8,218.2 347.4,217.4 348.0,216.5 348.6,215.2 349.1,215.0 349.7,214.9 350.2,213.3 350.8,213.1 351.3,212.5 351.9,211.1 352.4,211.7 353.0,209.8 353.5,210.9 354.0,209.9 354.6,210.3 355.1,209.0 355.6,207.8 356.1,207.0 356.7,206.4 357.2,205.6 357.7,204.6 358.2,203.6 358.8,203.9 359.3,204.1 359.8,202.5 360.4,200.6 360.9,200.2 361.4,200.8 362.0,199.8 362.5,197.6 363.1,197.7 363.7,197.2 364.3,195.9 364.9,195.1 365.5,193.7 366.1,194.3 366.7,193.2 367.3,192.4 368.0,192.1 368.6,192.6 369.3,192.5 370.0,190.8 370.7,190.5 371.3,188.4 372.0,188.9 372.7,188.9 373.4,187.6 374.1,187.3 374.9,186.8 375.6,186.6 376.3,186.7 377.0,184.9 377.8,184.1 378.6,185.8 379.4,186.6 380.2,184.8 381.0,185.1 381.8,183.0 382.5,186.6 383.3,184.3 384.1,184.8 384.9,181.7 385.7,184.4 386.5,181.7 387.3,181.8 388.1,184.0 388.9,183.0 389.7,181.2 390.5,181.9 391.3,181.7 392.1,182.4 392.9,183.5 393.6,182.4 394.4,183.5 395.2,182.2 396.0,182.5 396.8,182.1 397.6,181.9 398.4,180.3 399.2,180.3 400.0,179.5 400.9,179.7 401.8,180.1 402.6,178.6 403.5,179.9 404.4,177.4 405.2,179.4 406.1,179.4 407.0,178.4 407.8,177.5 408.6,178.5 409.4,177.6 410.2,176.5 411.0,178.3 411.8,177.9 412.6,178.6 413.4,178.9 414.2,180.0 415.1,179.6 415.9,177.6 416.7,179.0 417.5,178.1 418.3,181.3 419.1,180.5 419.9,182.5 420.7,181.3 421.5,179.7 422.3,179.6 423.1,180.2 423.9,178.3 424.7,180.9 425.5,179.4 426.4,177.6 427.2,180.1 428.0,179.3 428.8,179.6 429.6,179.4 430.4,179.0 431.2,180.8 432.0,180.5 432.8,178.8 433.6,179.7 434.5,178.6 435.3,178.7 436.1,179.5 436.9,179.2 437.7,177.1 438.5,177.5 439.3,178.0 440.1,177.6 440.9,178.1 441.7,177.3 442.5,179.4 443.3,175.8 444.1,177.3 444.9,177.0 445.8,178.5 446.6,177.6 447.4,178.1 448.2,177.9 449.0,177.7 449.8,178.4 450.6,175.7 451.4,176.9 452.2,176.2 453.0,177.1 453.8,175.9 454.7,177.1 455.2,175.2 455.6,174.8 455.6,174.5 455.7,173.5 455.7,172.8 455.8,172.0 455.8,171.1 455.9,170.3 456.0,169.5 456.0,168.8 456.1,168.0 456.1,167.1 456.2,166.4 456.2,165.5 456.3,164.6 456.4,163.8 456.4,163.0 456.5,162.2 456.5,161.4 456.6,160.5 456.7,159.7 456.7,158.8 456.8,158.2 456.8,157.5 456.9,156.6 456.9,155.7 457.1,155.1 457.2,153.8 457.4,152.9 457.6,152.4 457.8,152.1 458.0,151.2 458.2,149.7 458.5,149.6 458.7,148.3 458.9,147.4 459.1,146.7 459.3,145.4 459.6,144.8 460.1,143.9 460.8,143.4 461.4,143.1 462.1,142.6 462.8,143.3 463.6,143.6 464.4,141.5 465.2,144.4 466.0,141.8 466.8,145.6 467.6,141.7 468.4,140.8 469.2,143.3 470.0,142.7 470.8,144.2 471.7,142.5 472.6,143.1 473.4,142.2 474.2,144.0 475.1,142.8 475.9,142.0 476.8,143.3 477.7,143.5 478.1,142.3" fill="none" stroke="#858585" stroke-width="4.6" stroke-linejoin="round" stroke-linecap="round" />
<polyline points="460.9,143.9 461.3,142.7 462.1,141.8 462.9,141.2 463.6,139.9 464.4,140.5 465.2,141.9 466.0,140.5 466.9,140.4 467.7,141.1 468.6,140.3 469.4,142.9 470.3,141.1 471.1,141.4 472.0,141.6 472.8,140.1 473.6,139.8 474.4,141.0 475.2,140.7 476.1,143.6 476.9,140.2 477.7,140.6 478.1,142.6" fill="none" stroke="#858585" stroke-width="5" stroke-linejoin="round" stroke-linecap="round" />
<polyline points="281.1,227.2 281.5,225.8 282.4,225.8 283.2,227.4 284.0,227.6 284.9,227.7 285.7,228.1 286.5,227.9 287.4,223.8 288.2,225.7 289.0,226.8 289.9,226.2 290.7,228.0 291.5,229.8 292.4,229.0 293.2,225.5 294.0,226.2 294.9,226.8 295.5,224.9 295.9,226.1 296.1,224.6 296.3,223.2 296.5,223.5 296.7,221.9 296.9,220.9 297.1,220.4 297.3,219.8 297.5,219.2 297.7,218.3 297.9,216.8 298.1,216.3 298.3,215.2 298.5,214.5 298.7,213.2 298.9,213.2 299.2,212.7 299.4,210.4 299.6,210.4 299.9,210.3 300.1,209.2 300.3,208.6 300.5,208.0 300.8,207.2 301.0,206.6 301.2,205.5 301.5,203.8 301.7,201.1 302.1,205.2 302.5,206.0 302.8,205.6 303.2,207.0 303.6,208.1 304.0,207.6 304.4,208.9 304.7,210.1 305.1,210.1 305.5,210.8 305.9,211.4 306.4,211.8 306.8,212.6 307.2,214.7 307.7,215.8 308.1,216.0 308.6,217.1 309.0,217.5 309.6,218.0 310.1,219.4 310.7,220.2 311.3,219.8 311.9,221.7 312.4,221.6 313.1,219.0 313.8,222.6 314.5,223.1 315.2,223.9 316.0,222.6 316.9,225.1 317.7,224.1 318.6,224.1 319.5,222.5 320.3,222.1 321.2,225.6 322.1,227.0 322.9,223.6 323.8,225.3 324.7,220.8 325.5,223.2 326.4,223.5 327.2,227.9 328.1,226.3 328.9,226.6 329.8,228.8 330.6,226.3 331.5,225.9 332.4,227.2 333.2,228.1 334.1,227.6 335.0,223.2 335.8,223.9 336.6,222.3 337.4,225.5 338.2,223.1 339.0,222.2 339.8,225.7 340.6,224.7 341.4,222.1 342.2,223.1 342.6,220.0" fill="none" stroke="#858585" stroke-width="3.4" stroke-linejoin="round" stroke-linecap="round" />
<line x1="210" y1="136" x2="210" y2="181.5" stroke="#111" stroke-width="1.7" />
<line x1="205.6" y1="136" x2="214.3" y2="136" stroke="#111" stroke-width="1.7" />
<line x1="205.6" y1="181.5" x2="214.3" y2="181.5" stroke="#111" stroke-width="1.7" />
<text x="218.6" y="155.6" font-size="15.2" font-weight="normal" text-anchor="start" fill="#111" >&#916;F</text>
<text x="218.6" y="173.3" font-size="15.5" font-weight="normal" text-anchor="start" fill="#111" >50 au</text>
<line x1="209.2" y1="217.9" x2="259.2" y2="217.9" stroke="#111" stroke-width="1.7" />
<line x1="209.2" y1="213.4" x2="209.2" y2="222.5" stroke="#111" stroke-width="1.7" />
<line x1="259.2" y1="213.4" x2="259.2" y2="222.5" stroke="#111" stroke-width="1.7" />
<text x="215.8" y="209.8" font-size="15.6" font-weight="normal" text-anchor="start" fill="#111" >2 min</text>
</g>
<g id="panelC">
<text x="0.5" y="269.1" font-size="28" font-weight="bold" text-anchor="start" fill="#111" >C</text>
<line x1="41.9" y1="253.0" x2="41.9" y2="540.0999999999999" stroke="#111" stroke-width="1.6" />
<line x1="41.9" y1="539.3" x2="251.4" y2="539.3" stroke="#111" stroke-width="1.6" />
<line x1="41.9" y1="520.2" x2="47.699999999999996" y2="520.2" stroke="#111" stroke-width="1.4" />
<text x="36.2" y="524.5" font-size="12" font-weight="normal" text-anchor="end" fill="#111" stroke="#111" stroke-width="0.2">0</text>
<line x1="41.9" y1="481.7" x2="47.699999999999996" y2="481.7" stroke="#111" stroke-width="1.4" />
<text x="36.2" y="486.0" font-size="12" font-weight="normal" text-anchor="end" fill="#111" stroke="#111" stroke-width="0.2">5</text>
<line x1="41.9" y1="444.1" x2="47.699999999999996" y2="444.1" stroke="#111" stroke-width="1.4" />
<text x="36.2" y="448.40000000000003" font-size="12" font-weight="normal" text-anchor="end" fill="#111" stroke="#111" stroke-width="0.2">10</text>
<line x1="41.9" y1="405.5" x2="47.699999999999996" y2="405.5" stroke="#111" stroke-width="1.4" />
<text x="36.2" y="409.8" font-size="12" font-weight="normal" text-anchor="end" fill="#111" stroke="#111" stroke-width="0.2">15</text>
<line x1="41.9" y1="367.3" x2="47.699999999999996" y2="367.3" stroke="#111" stroke-width="1.4" />
<text x="36.2" y="371.6" font-size="12" font-weight="normal" text-anchor="end" fill="#111" stroke="#111" stroke-width="0.2">20</text>
<line x1="41.9" y1="328.8" x2="47.699999999999996" y2="328.8" stroke="#111" stroke-width="1.4" />
<text x="36.2" y="333.1" font-size="12" font-weight="normal" text-anchor="end" fill="#111" stroke="#111" stroke-width="0.2">25</text>
<line x1="41.9" y1="290.4" x2="47.699999999999996" y2="290.4" stroke="#111" stroke-width="1.4" />
<text x="36.2" y="294.7" font-size="12" font-weight="normal" text-anchor="end" fill="#111" stroke="#111" stroke-width="0.2">30</text>
<line x1="41.9" y1="253.8" x2="47.699999999999996" y2="253.8" stroke="#111" stroke-width="1.4" />
<text x="36.2" y="258.1" font-size="12" font-weight="normal" text-anchor="end" fill="#111" stroke="#111" stroke-width="0.2">35</text>
<line x1="56.6" y1="539.3" x2="56.6" y2="533.6999999999999" stroke="#111" stroke-width="1.4" />
<text x="56.300000000000004" y="555.2" font-size="12" font-weight="normal" text-anchor="middle" fill="#111" stroke="#111" stroke-width="0.2">0</text>
<line x1="88.95" y1="539.3" x2="88.95" y2="533.6999999999999" stroke="#111" stroke-width="1.4" />
<text x="88.65" y="555.2" font-size="12" font-weight="normal" text-anchor="middle" fill="#111" stroke="#111" stroke-width="0.2">1</text>
<line x1="121.30000000000001" y1="539.3" x2="121.30000000000001" y2="533.6999999999999" stroke="#111" stroke-width="1.4" />
<text x="121.00000000000001" y="555.2" font-size="12" font-weight="normal" text-anchor="middle" fill="#111" stroke="#111" stroke-width="0.2">2</text>
<line x1="153.65" y1="539.3" x2="153.65" y2="533.6999999999999" stroke="#111" stroke-width="1.4" />
<text x="153.35" y="555.2" font-size="12" font-weight="normal" text-anchor="middle" fill="#111" stroke="#111" stroke-width="0.2">3</text>
<line x1="186.0" y1="539.3" x2="186.0" y2="533.6999999999999" stroke="#111" stroke-width="1.4" />
<text x="185.7" y="555.2" font-size="12" font-weight="normal" text-anchor="middle" fill="#111" stroke="#111" stroke-width="0.2">4</text>
<line x1="218.35" y1="539.3" x2="218.35" y2="533.6999999999999" stroke="#111" stroke-width="1.4" />
<text x="218.04999999999998" y="555.2" font-size="12" font-weight="normal" text-anchor="middle" fill="#111" stroke="#111" stroke-width="0.2">5</text>
<line x1="250.70000000000002" y1="539.3" x2="250.70000000000002" y2="533.6999999999999" stroke="#111" stroke-width="1.4" />
<text x="250.4" y="555.2" font-size="12" font-weight="normal" text-anchor="middle" fill="#111" stroke="#111" stroke-width="0.2">6</text>
<text transform="translate(13.8,394) rotate(-90)" font-size="14.2" font-weight="bold" text-anchor="middle" fill="#111">swelling (% of maximal)</text>
<text x="154.5" y="574" font-size="14" font-weight="bold" text-anchor="middle" fill="#111" >rGzmC (&#181;M)</text>
<polyline points="186.6,339.6 218.9,267.0" fill="none" stroke="#a0a0a0" stroke-width="1" stroke-linejoin="round" stroke-linecap="round" />
<polyline points="56.8,521.0 89.2,505.2 121.5,444.1 186.6,344.2 218.9,292.7" fill="none" stroke="#0c0c0c" stroke-width="2.1" stroke-linejoin="round" stroke-linecap="round" />
<rect x="54.1" y="518.27" width="5.4" height="5.4" fill="#0c0c0c" stroke="none" stroke-width="0"/>
<rect x="86.45" y="502.485" width="5.4" height="5.4" fill="#0c0c0c" stroke="none" stroke-width="0"/>
<rect x="118.80000000000001" y="441.40000000000003" width="5.4" height="5.4" fill="#0c0c0c" stroke="none" stroke-width="0"/>
<rect x="183.9" y="341.5" width="5.4" height="5.4" fill="#0c0c0c" stroke="none" stroke-width="0"/>
<rect x="216.25" y="290.004" width="5.4" height="5.4" fill="#0c0c0c" stroke="none" stroke-width="0"/>
<circle cx="56.8" cy="521.0" r="2.5" fill="#b8b8b8"/>
<circle cx="89.2" cy="507.1" r="2.5" fill="#b8b8b8"/>
<circle cx="121.5" cy="441.0" r="2.5" fill="#b8b8b8"/>
<circle cx="186.6" cy="339.6" r="2.5" fill="#b8b8b8"/>
<circle cx="218.9" cy="267.0" r="2.5" fill="#b8b8b8"/>
<line x1="151" y1="500.8" x2="169.5" y2="500.8" stroke="#0c0c0c" stroke-width="2" stroke-dasharray="5.5,2.2,3,2.2,5.6"/>
<rect x="157.6" y="498.1" width="5.4" height="5.4" fill="#0c0c0c" stroke="none" stroke-width="0"/>
<line x1="151" y1="513.5" x2="169.5" y2="513.5" stroke="#a8a8a8" stroke-width="1.2" stroke-dasharray="5.5,7.4,5.6"/>
<circle cx="160.3" cy="513.5" r="2.4" fill="#b4b4b4"/>
<text x="175" y="503.2" font-size="14.2" font-weight="normal" text-anchor="start" fill="#111" >rGzmC</text>
<text x="175" y="518.2" font-size="14.2" font-weight="normal" text-anchor="start" fill="#111" >CsA+GzmC</text>
</g>
<g id="panelD">
<text x="265.3" y="269" font-size="28" font-weight="bold" text-anchor="start" fill="#111" >D</text>
<line x1="306.4" y1="252.0" x2="306.4" y2="542.8" stroke="#111" stroke-width="1.6" />
<line x1="306.4" y1="542" x2="518" y2="542" stroke="#111" stroke-width="1.6" />
<line x1="306.4" y1="528.7" x2="311.79999999999995" y2="528.7" stroke="#111" stroke-width="1.4" />
<text x="300.8" y="533.0" font-size="12" font-weight="normal" text-anchor="end" fill="#111" stroke="#111" stroke-width="0.2">0</text>
<line x1="306.4" y1="503.2" x2="311.79999999999995" y2="503.2" stroke="#111" stroke-width="1.4" />
<text x="300.8" y="507.5" font-size="12" font-weight="normal" text-anchor="end" fill="#111" stroke="#111" stroke-width="0.2">2</text>
<line x1="306.4" y1="477.8" x2="311.79999999999995" y2="477.8" stroke="#111" stroke-width="1.4" />
<text x="300.8" y="482.1" font-size="12" font-weight="normal" text-anchor="end" fill="#111" stroke="#111" stroke-width="0.2">4</text>
<line x1="306.4" y1="452.8" x2="311.79999999999995" y2="452.8" stroke="#111" stroke-width="1.4" />
<text x="300.8" y="457.1" font-size="12" font-weight="normal" text-anchor="end" fill="#111" stroke="#111" stroke-width="0.2">6</text>
<line x1="306.4" y1="427.6" x2="311.79999999999995" y2="427.6" stroke="#111" stroke-width="1.4" />
<text x="300.8" y="431.90000000000003" font-size="12" font-weight="normal" text-anchor="end" fill="#111" stroke="#111" stroke-width="0.2">8</text>
<line x1="306.4" y1="402.6" x2="311.79999999999995" y2="402.6" stroke="#111" stroke-width="1.4" />
<text x="300.8" y="406.90000000000003" font-size="12" font-weight="normal" text-anchor="end" fill="#111" stroke="#111" stroke-width="0.2">10</text>
<line x1="306.4" y1="377.7" x2="311.79999999999995" y2="377.7" stroke="#111" stroke-width="1.4" />
<text x="300.8" y="382.0" font-size="12" font-weight="normal" text-anchor="end" fill="#111" stroke="#111" stroke-width="0.2">12</text>
<line x1="306.4" y1="351.7" x2="311.79999999999995" y2="351.7" stroke="#111" stroke-width="1.4" />
<text x="300.8" y="356.0" font-size="12" font-weight="normal" text-anchor="end" fill="#111" stroke="#111" stroke-width="0.2">14</text>
<line x1="306.4" y1="327.8" x2="311.79999999999995" y2="327.8" stroke="#111" stroke-width="1.4" />
<text x="300.8" y="332.1" font-size="12" font-weight="normal" text-anchor="end" fill="#111" stroke="#111" stroke-width="0.2">16</text>
<line x1="306.4" y1="302.2" x2="311.79999999999995" y2="302.2" stroke="#111" stroke-width="1.4" />
<text x="300.8" y="306.5" font-size="12" font-weight="normal" text-anchor="end" fill="#111" stroke="#111" stroke-width="0.2">18</text>
<line x1="306.4" y1="277" x2="311.79999999999995" y2="277" stroke="#111" stroke-width="1.4" />
<text x="300.8" y="281.3" font-size="12" font-weight="normal" text-anchor="end" fill="#111" stroke="#111" stroke-width="0.2">20</text>
<line x1="306.4" y1="252.8" x2="311.79999999999995" y2="252.8" stroke="#111" stroke-width="1.4" />
<text x="300.8" y="257.1" font-size="12" font-weight="normal" text-anchor="end" fill="#111" stroke="#111" stroke-width="0.2">22</text>
<line x1="315.8" y1="542" x2="315.8" y2="536.4" stroke="#111" stroke-width="1.4" />
<line x1="333.85" y1="542" x2="333.85" y2="536.4" stroke="#111" stroke-width="1.4" />
<line x1="351.90000000000003" y1="542" x2="351.90000000000003" y2="536.4" stroke="#111" stroke-width="1.4" />
<line x1="369.95" y1="542" x2="369.95" y2="536.4" stroke="#111" stroke-width="1.4" />
<line x1="388.0" y1="542" x2="388.0" y2="536.4" stroke="#111" stroke-width="1.4" />
<line x1="406.05" y1="542" x2="406.05" y2="536.4" stroke="#111" stroke-width="1.4" />
<line x1="424.1" y1="542" x2="424.1" y2="536.4" stroke="#111" stroke-width="1.4" />
<line x1="442.15" y1="542" x2="442.15" y2="536.4" stroke="#111" stroke-width="1.4" />
<line x1="460.20000000000005" y1="542" x2="460.20000000000005" y2="536.4" stroke="#111" stroke-width="1.4" />
<line x1="478.25" y1="542" x2="478.25" y2="536.4" stroke="#111" stroke-width="1.4" />
<line x1="496.3" y1="542" x2="496.3" y2="536.4" stroke="#111" stroke-width="1.4" />
<line x1="514.35" y1="542" x2="514.35" y2="536.4" stroke="#111" stroke-width="1.4" />
<text x="315.8" y="557" font-size="12" font-weight="normal" text-anchor="middle" fill="#111" stroke="#111" stroke-width="0.2">0</text>
<text x="351.90000000000003" y="557" font-size="12" font-weight="normal" text-anchor="middle" fill="#111" stroke="#111" stroke-width="0.2">10</text>
<text x="388.0" y="557" font-size="12" font-weight="normal" text-anchor="middle" fill="#111" stroke="#111" stroke-width="0.2">20</text>
<text x="424.1" y="557" font-size="12" font-weight="normal" text-anchor="middle" fill="#111" stroke="#111" stroke-width="0.2">30</text>
<text x="460.20000000000005" y="557" font-size="12" font-weight="normal" text-anchor="middle" fill="#111" stroke="#111" stroke-width="0.2">40</text>
<text x="496.3" y="557" font-size="12" font-weight="normal" text-anchor="middle" fill="#111" stroke="#111" stroke-width="0.2">50</text>
<text transform="translate(278.8,394) rotate(-90)" font-size="14.2" font-weight="bold" text-anchor="middle" fill="#111">swelling (% of maximal)</text>
<text x="409.5" y="575.2" font-size="14.2" font-weight="bold" text-anchor="middle" fill="#111" >Ca<tspan dy="-4.5" font-size="9.5">2+</tspan><tspan dy="4.5"> (&#181;M)</tspan></text>
<line x1="311" y1="461" x2="373" y2="398" stroke="#ececec" stroke-width="1.2" />
<line x1="373" y1="398" x2="399" y2="385" stroke="#f5f5f5" stroke-width="1.2" />
<polyline points="315.8,472.8 351.9,364.0 369.9,311.2 388.0,282.7 424.1,256.4 496.3,283.3" fill="none" stroke="#0c0c0c" stroke-width="2.1" stroke-linejoin="round" stroke-linecap="round" />
<rect x="313.0" y="470.0" width="5.6" height="5.6" fill="#0c0c0c" stroke="none" stroke-width="0"/>
<rect x="349.1" y="361.24999999999994" width="5.6" height="5.6" fill="#0c0c0c" stroke="none" stroke-width="0"/>
<rect x="367.15" y="308.35999999999996" width="5.6" height="5.6" fill="#0c0c0c" stroke="none" stroke-width="0"/>
<rect x="385.2" y="279.86999999999995" width="5.6" height="5.6" fill="#0c0c0c" stroke="none" stroke-width="0"/>
<rect x="421.3" y="253.63" width="5.6" height="5.6" fill="#0c0c0c" stroke="none" stroke-width="0"/>
<rect x="493.5" y="280.5" width="5.6" height="5.6" fill="#0c0c0c" stroke="none" stroke-width="0"/>
<line x1="315.8" y1="529.3375000000001" x2="496.3" y2="529.72" stroke="#6e6e6e" stroke-width="1.2" />
<circle cx="315.8" cy="529.5" r="2.4" fill="#b4b4b4"/>
<circle cx="496.3" cy="529.5" r="2.4" fill="#b4b4b4"/>
<line x1="409" y1="490.8" x2="428.5" y2="490.8" stroke="#0c0c0c" stroke-width="2" />
<rect x="416.1" y="488.1" width="5.4" height="5.4" fill="#0c0c0c" stroke="none" stroke-width="0"/>
<line x1="409" y1="503.8" x2="428.5" y2="503.8" stroke="#a8a8a8" stroke-width="1.2" stroke-dasharray="5.5,8.4,5.6"/>
<circle cx="418.8" cy="503.8" r="2.3" fill="#b4b4b4"/>
<text x="434.3" y="493.2" font-size="14.5" font-weight="normal" text-anchor="start" fill="#111" >Ca<tspan dy="-5.5" font-size="9">2+</tspan><tspan dy="5.5">+rGzmC</tspan></text>
<text x="434.3" y="506.6" font-size="14.5" font-weight="normal" text-anchor="start" fill="#111" >Ca<tspan dy="-5.5" font-size="9">2+</tspan></text>
</g>
<g id="panelE">
<text x="0.3" y="615.2" font-size="28.5" font-weight="bold" text-anchor="start" fill="#111" >E</text>
<line x1="32.6" y1="627.5" x2="32.6" y2="901.3" stroke="#2a2a2a" stroke-width="1.0" />
<line x1="32.6" y1="901.3" x2="221.5" y2="901.3" stroke="#2a2a2a" stroke-width="1.0" />
<line x1="32.6" y1="880.5" x2="36.4" y2="880.5" stroke="#2a2a2a" stroke-width="0.9" />
<text x="28.6" y="883.6" font-size="9" font-weight="normal" text-anchor="end" fill="#1c1c1c" textLength="12.2" lengthAdjust="spacingAndGlyphs">100</text>
<line x1="32.6" y1="855.225" x2="36.4" y2="855.225" stroke="#2a2a2a" stroke-width="0.9" />
<text x="28.6" y="858.325" font-size="9" font-weight="normal" text-anchor="end" fill="#1c1c1c" textLength="12.2" lengthAdjust="spacingAndGlyphs">125</text>
<line x1="32.6" y1="829.95" x2="36.4" y2="829.95" stroke="#2a2a2a" stroke-width="0.9" />
<text x="28.6" y="833.0500000000001" font-size="9" font-weight="normal" text-anchor="end" fill="#1c1c1c" textLength="12.2" lengthAdjust="spacingAndGlyphs">150</text>
<line x1="32.6" y1="804.675" x2="36.4" y2="804.675" stroke="#2a2a2a" stroke-width="0.9" />
<text x="28.6" y="807.775" font-size="9" font-weight="normal" text-anchor="end" fill="#1c1c1c" textLength="12.2" lengthAdjust="spacingAndGlyphs">175</text>
<line x1="32.6" y1="779.4" x2="36.4" y2="779.4" stroke="#2a2a2a" stroke-width="0.9" />
<text x="28.6" y="782.5" font-size="9" font-weight="normal" text-anchor="end" fill="#1c1c1c" textLength="12.2" lengthAdjust="spacingAndGlyphs">200</text>
<line x1="32.6" y1="754.125" x2="36.4" y2="754.125" stroke="#2a2a2a" stroke-width="0.9" />
<text x="28.6" y="757.225" font-size="9" font-weight="normal" text-anchor="end" fill="#1c1c1c" textLength="12.2" lengthAdjust="spacingAndGlyphs">225</text>
<line x1="32.6" y1="728.85" x2="36.4" y2="728.85" stroke="#2a2a2a" stroke-width="0.9" />
<text x="28.6" y="731.95" font-size="9" font-weight="normal" text-anchor="end" fill="#1c1c1c" textLength="12.2" lengthAdjust="spacingAndGlyphs">250</text>
<line x1="32.6" y1="703.575" x2="36.4" y2="703.575" stroke="#2a2a2a" stroke-width="0.9" />
<text x="28.6" y="706.6750000000001" font-size="9" font-weight="normal" text-anchor="end" fill="#1c1c1c" textLength="12.2" lengthAdjust="spacingAndGlyphs">275</text>
<line x1="32.6" y1="678.3" x2="36.4" y2="678.3" stroke="#2a2a2a" stroke-width="0.9" />
<text x="28.6" y="681.4" font-size="9" font-weight="normal" text-anchor="end" fill="#1c1c1c" textLength="12.2" lengthAdjust="spacingAndGlyphs">300</text>
<line x1="32.6" y1="653.0250000000001" x2="36.4" y2="653.0250000000001" stroke="#2a2a2a" stroke-width="0.9" />
<text x="28.6" y="656.1250000000001" font-size="9" font-weight="normal" text-anchor="end" fill="#1c1c1c" textLength="12.2" lengthAdjust="spacingAndGlyphs">325</text>
<line x1="32.6" y1="627.75" x2="36.4" y2="627.75" stroke="#2a2a2a" stroke-width="0.9" />
<text x="28.6" y="630.85" font-size="9" font-weight="normal" text-anchor="end" fill="#1c1c1c" textLength="12.2" lengthAdjust="spacingAndGlyphs">350</text>
<line x1="79.7" y1="901.3" x2="79.7" y2="903.3" stroke="#333" stroke-width="0.7" />
<line x1="127.10000000000001" y1="901.3" x2="127.10000000000001" y2="903.3" stroke="#333" stroke-width="0.7" />
<line x1="174.5" y1="901.3" x2="174.5" y2="903.3" stroke="#333" stroke-width="0.7" />
<line x1="221.9" y1="901.3" x2="221.9" y2="903.3" stroke="#333" stroke-width="0.7" />
<text transform="translate(9.6,771) rotate(-90)" font-size="10.8" text-anchor="middle" fill="#1c1c1c" textLength="218" lengthAdjust="spacingAndGlyphs">released fluorophore (% of untreated mitochondria)</text>
<line x1="47.8" y1="723" x2="47.8" y2="747.5535" stroke="#d6d6d6" stroke-width="0.8" />
<line x1="46.3" y1="723" x2="49.3" y2="723" stroke="#d6d6d6" stroke-width="0.8" />
<line x1="64.4" y1="667.5" x2="64.4" y2="684.366" stroke="#d6d6d6" stroke-width="0.8" />
<line x1="62.900000000000006" y1="667.5" x2="65.9" y2="667.5" stroke="#d6d6d6" stroke-width="0.8" />
<rect x="39.5" y="747.5535" width="16.6" height="153.74649999999997" fill="#111111" stroke="#111" stroke-width="0.6"/>
<rect x="56.1" y="684.366" width="16.6" height="216.93399999999997" fill="#8f8f8f" stroke="#333" stroke-width="0.8"/>
<line x1="95.3" y1="824.5" x2="95.3" y2="840.3633" stroke="#d6d6d6" stroke-width="0.8" />
<line x1="93.8" y1="824.5" x2="96.8" y2="824.5" stroke="#d6d6d6" stroke-width="0.8" />
<line x1="111.9" y1="781" x2="111.9" y2="791.0265" stroke="#d6d6d6" stroke-width="0.8" />
<line x1="110.4" y1="781" x2="113.4" y2="781" stroke="#d6d6d6" stroke-width="0.8" />
<rect x="87" y="840.3633" width="16.6" height="60.93669999999997" fill="#111111" stroke="#111" stroke-width="0.6"/>
<rect x="103.6" y="791.0265" width="16.6" height="110.2734999999999" fill="#8f8f8f" stroke="#333" stroke-width="0.8"/>
<line x1="142.5" y1="692.5" x2="142.5" y2="726.828" stroke="#d6d6d6" stroke-width="0.8" />
<line x1="141.0" y1="692.5" x2="144.0" y2="692.5" stroke="#d6d6d6" stroke-width="0.8" />
<line x1="159.1" y1="665.5" x2="159.1" y2="682.344" stroke="#d6d6d6" stroke-width="0.8" />
<line x1="157.6" y1="665.5" x2="160.6" y2="665.5" stroke="#d6d6d6" stroke-width="0.8" />
<rect x="134.2" y="726.828" width="16.6" height="174.47199999999998" fill="#111111" stroke="#111" stroke-width="0.6"/>
<rect x="150.79999999999998" y="682.344" width="16.6" height="218.9559999999999" fill="#8f8f8f" stroke="#333" stroke-width="0.8"/>
<line x1="190.0" y1="769.5" x2="190.0" y2="778.7934" stroke="#d6d6d6" stroke-width="0.8" />
<line x1="188.5" y1="769.5" x2="191.5" y2="769.5" stroke="#d6d6d6" stroke-width="0.8" />
<line x1="206.6" y1="886" x2="206.6" y2="892.0254" stroke="#d6d6d6" stroke-width="0.8" />
<line x1="205.1" y1="886" x2="208.1" y2="886" stroke="#d6d6d6" stroke-width="0.8" />
<rect x="181.7" y="778.7934" width="16.6" height="122.50659999999993" fill="#111111" stroke="#111" stroke-width="0.6"/>
<rect x="198.29999999999998" y="892.0254" width="16.6" height="9.274599999999964" fill="#8f8f8f" stroke="#333" stroke-width="0.8"/>
<rect x="39.2" y="632" width="19.6" height="7.2" fill="#111" stroke="#111" stroke-width="0.6"/>
<rect x="39.2" y="643.3" width="19.6" height="7" fill="#8f8f8f" stroke="#333" stroke-width="0.8"/>
<text x="61.8" y="639" font-size="9.3" font-weight="normal" text-anchor="start" fill="#1c1c1c" textLength="79.2" lengthAdjust="spacingAndGlyphs">calcein (MW ~620)</text>
<text x="61.8" y="650" font-size="9.3" font-weight="normal" text-anchor="start" fill="#1c1c1c" textLength="75.7" lengthAdjust="spacingAndGlyphs">Rhod-2 (MW~860)</text>
<text transform="translate(64,911) rotate(-35.5)" font-size="12.3" text-anchor="end" fill="#1c1c1c" stroke="#1c1c1c" stroke-width="0.2">Ca<tspan dy="-4.5" font-size="8">2+</tspan></text>
<text transform="translate(111.5,910.5) rotate(-35.5)" font-size="12.3" text-anchor="end" fill="#1c1c1c" stroke="#1c1c1c" stroke-width="0.2">CsA+Ca<tspan dy="-4.5" font-size="8">2+</tspan></text>
<text transform="translate(155.5,912.5) rotate(-35.5)" font-size="12.3" text-anchor="end" fill="#1c1c1c" stroke="#1c1c1c" stroke-width="0.2">mastoparan</text>
<text transform="translate(203,912.5) rotate(-35.5)" font-size="12.3" text-anchor="end" fill="#1c1c1c" stroke="#1c1c1c" stroke-width="0.2">rGzmC</text>
</g>
</svg>
</body></html>
